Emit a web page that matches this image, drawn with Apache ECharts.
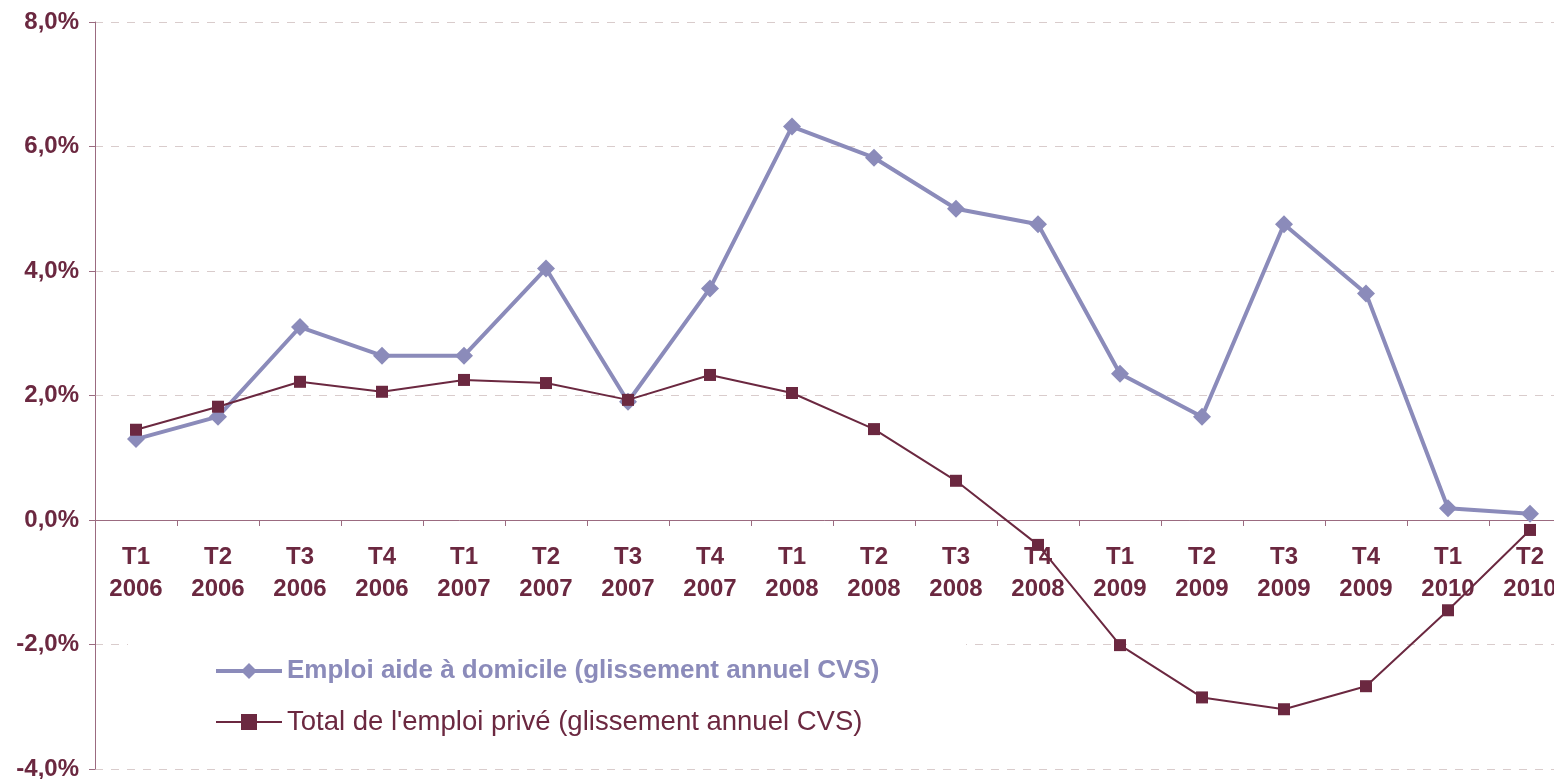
<!DOCTYPE html>
<html><head><meta charset="utf-8">
<script src="https://cdn.jsdelivr.net/npm/echarts@6/dist/echarts.min.js"></script>
<style>html,body{margin:0;padding:0;background:#fff}#c{width:1554px;height:779px}</style>
</head><body><div id="c"></div>
<script>
const quarters = ["T1","T2","T3","T4","T1","T2","T3","T4","T1","T2","T3","T4","T1","T2","T3","T4","T1","T2"];
const years = ["2006","2006","2006","2006","2007","2007","2007","2007","2008","2008","2008","2008","2009","2009","2009","2009","2010","2010"];
const seriesNames = ["Emploi aide à domicile (glissement annuel CVS)", "Total de l'emploi privé (glissement annuel CVS)"];
const aideDomicile = [1.3,1.66,3.1,2.64,2.64,4.04,1.9,3.72,6.32,5.82,5.0,4.75,2.35,1.66,4.75,3.64,0.19,0.1];
const totalPrive = [1.45,1.82,2.22,2.06,2.25,2.2,1.93,2.33,2.04,1.46,0.63,-0.4,-2.01,-2.85,-3.04,-2.67,-1.45,-0.16];

const categories = quarters.map((q,i)=>q+"\n"+years[i]);
const maroon = '#6b2840';
const lav = '#8b8bba';
const chart = echarts.init(document.getElementById('c'));
chart.setOption({
  animation:false,
  grid:{left:95,right:-17,top:22,bottom:10,containLabel:false,outerBoundsMode:'none'},
  xAxis:{type:'category',data:categories,boundaryGap:true,
    axisLine:{onZero:true,lineStyle:{color:'#9b6b80',width:1}},
    axisTick:{show:true,alignWithLabel:false,length:6,lineStyle:{color:'#9b6b80'}},
    axisLabel:{color:maroon,fontFamily:'Liberation Sans, Arial',fontWeight:'bold',fontSize:24,lineHeight:32,margin:-228,interval:0,hideOverlap:false},
    splitLine:{show:false}},
  yAxis:{type:'value',min:-4,max:8,interval:2,
    axisLine:{show:true,lineStyle:{color:'#9b6b80',width:1}},
    axisTick:{show:true,length:6,lineStyle:{color:'#9b6b80'}},
    axisLabel:{color:maroon,fontFamily:'Liberation Sans, Arial',fontWeight:'bold',fontSize:24,margin:16,
      formatter:v=>v.toFixed(1).replace('.',',')+'%'},
    splitLine:{show:true,lineStyle:{color:'#d9cccc',type:[8,8],width:1}}},
  graphic:[{type:'rect',z:1,shape:{x:128,y:628,width:838,height:125},style:{fill:'#fff'}}],
  legend:{orient:'vertical',left:209,top:653,itemGap:24,itemWidth:66,itemHeight:20,
    textStyle:{fontFamily:'Liberation Sans, Arial',fontSize:26},
    data:[{name:seriesNames[0],textStyle:{color:lav,fontWeight:'bold',fontSize:26},lineStyle:{width:4,color:lav}},
          {name:seriesNames[1],textStyle:{color:maroon,fontWeight:'normal',fontSize:27.5},lineStyle:{width:2,color:maroon}}]},
  series:[
    {name:seriesNames[0],type:'line',data:aideDomicile,symbol:'diamond',symbolSize:18,z:3,
      lineStyle:{color:lav,width:4},itemStyle:{color:lav}},
    {name:seriesNames[1],type:'line',data:totalPrive,symbol:'rect',symbolSize:12,z:4,
      lineStyle:{color:maroon,width:2},itemStyle:{color:maroon}}
  ]
});
</script></body></html>
